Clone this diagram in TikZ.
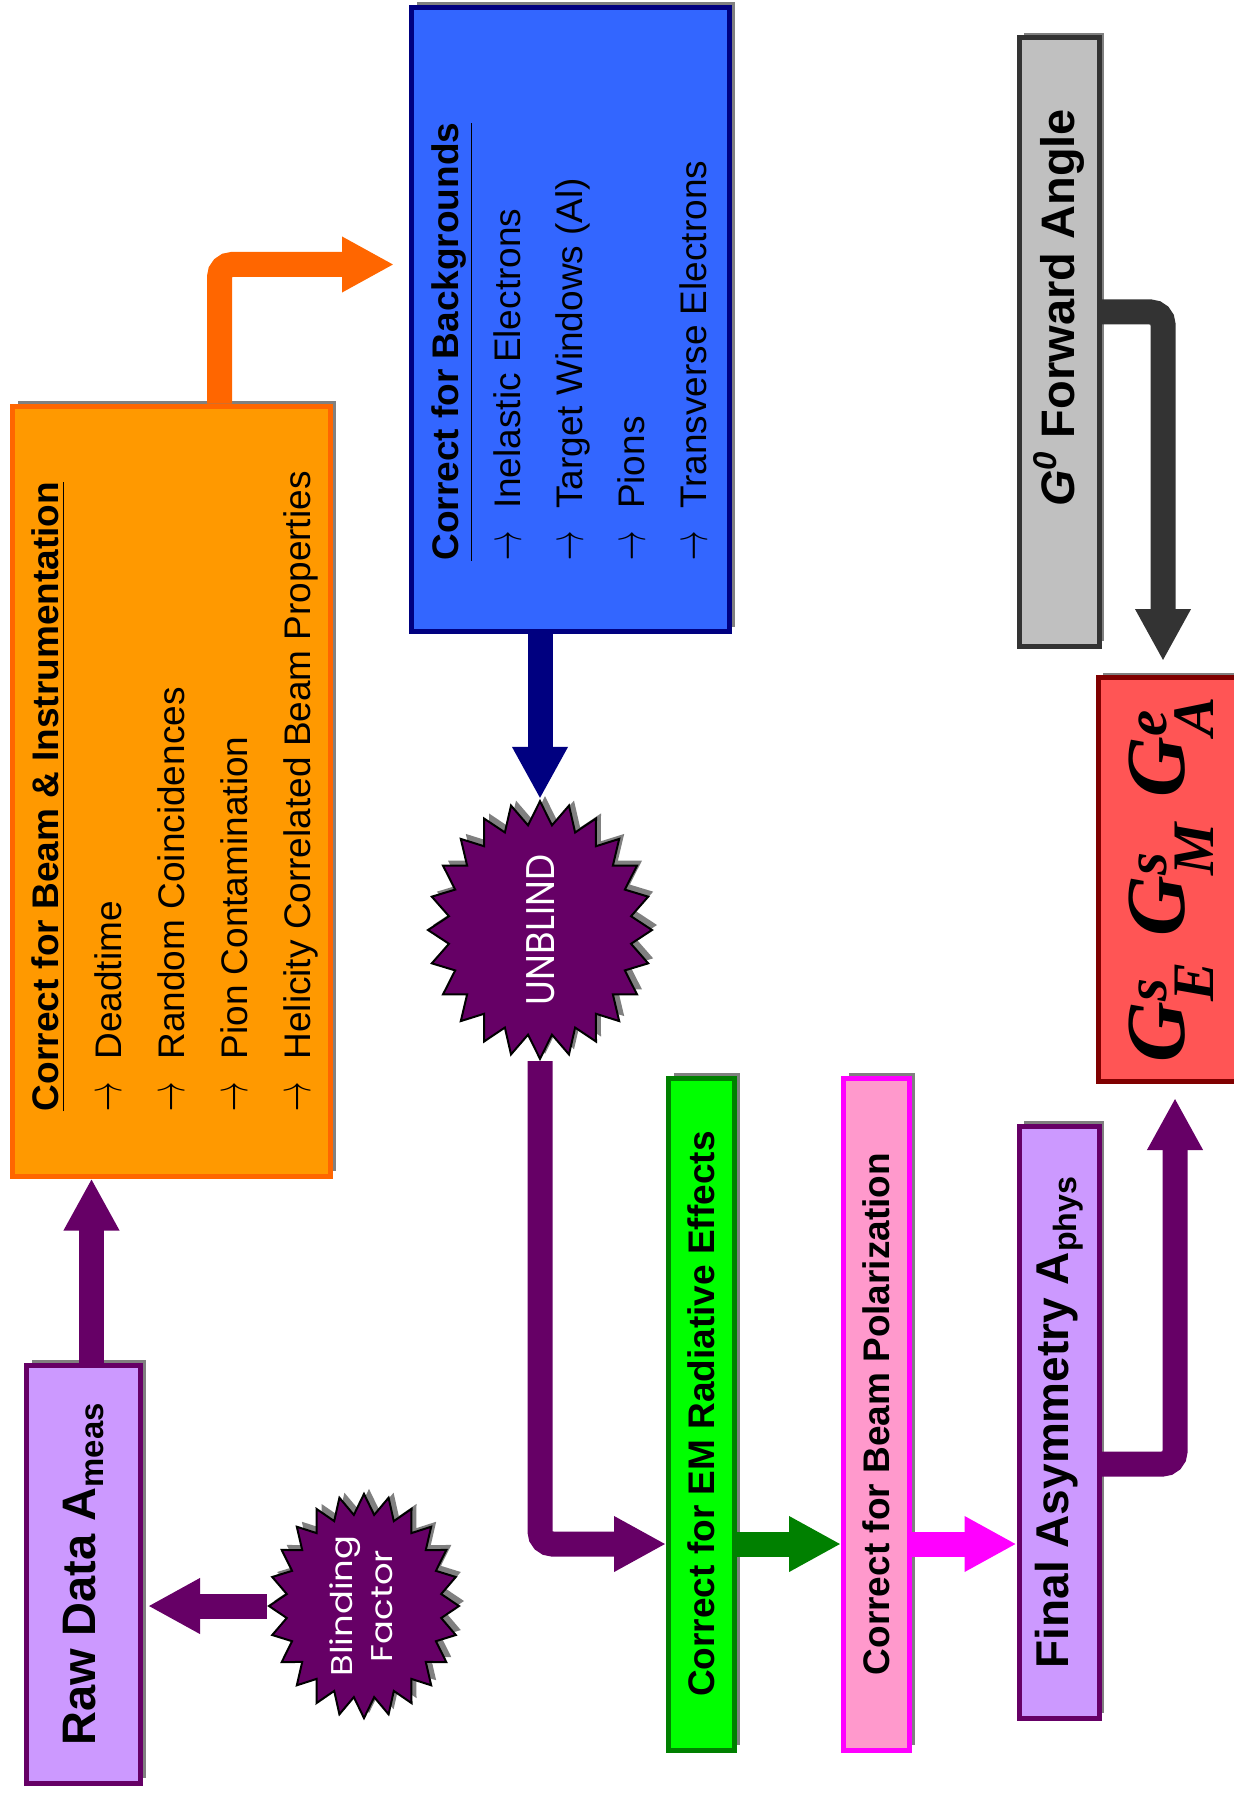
\documentclass[tikz,border=0pt]{standalone}
\usepackage{amsmath}
\usepackage{fontspec}
\setmainfont{Liberation Sans}
\newfontfamily\starfont{Poppins}
\newfontfamily\formfont{Liberation Serif}
\usetikzlibrary{arrows.meta, shapes.geometric, shadows}
\definecolor{beamorange}{RGB}{255, 153, 0}
\definecolor{beamedge}{RGB}{255, 102, 0}
\definecolor{bkgblue}{RGB}{51, 102, 255}
\definecolor{bkgedge}{RGB}{0, 0, 128}
\definecolor{blindpurple}{RGB}{102, 0, 102}
\definecolor{asymlilac}{RGB}{204, 153, 255}
\definecolor{radgreen}{RGB}{0, 255, 0}
\definecolor{radedge}{RGB}{0, 128, 0}
\definecolor{polpink}{RGB}{255, 153, 204}
\definecolor{poledge}{RGB}{255, 0, 255}
\definecolor{fwdgray}{RGB}{192, 192, 192}
\definecolor{fwdedge}{RGB}{51, 51, 51}
\definecolor{ffred}{RGB}{255, 85, 85}
\definecolor{ffedge}{RGB}{128, 0, 0}
\definecolor{shadowgray}{RGB}{128, 128, 128}
\newcommand{\itemarrow}{\scalebox{0.85}[1.5]{$\rightarrow$}\hspace{0.6em}}
% star labels take no room, so the star size is set by minimum size only
\newcommand{\burstlabel}[1]{\makebox[0pt]{\raisebox{-0.35em}[0pt][0pt]{#1}}}

\tikzset{
  stepbox/.style={rectangle, line width=2.5pt, inner sep=0pt,
    drop shadow={shadow xshift=2.5pt, shadow yshift=2.5pt, fill=shadowgray, opacity=1}},
  burst/.style={star, star points=24, star point ratio=1.22, inner sep=0pt,
    fill=blindpurple, draw=black, line width=1pt, text=white,
    drop shadow={shadow xshift=2.5pt, shadow yshift=2.5pt, fill=shadowgray, opacity=1}},
  flow/.style={line width=12.5pt, rounded corners=6.25pt, -{Triangle[length=26pt, width=26pt]}}
}

\begin{document}
\begin{tikzpicture}[x=0.5pt, y=-0.5pt]
  \useasboundingbox (0,0) rectangle (1233,1797);

  % Beam & instrumentation corrections
  \node[stepbox, draw=beamedge, fill=beamorange, minimum width=159pt, minimum height=385pt] (beam) at (171.5,791)
    {\rotatebox{90}{\fontsize{18.5pt}{31.5pt}\selectfont\makebox[320pt][l]{\begin{tabular}{@{}l@{}}
      \underline{\textbf{Correct for Beam \& Instrumentation}}\\
      \itemarrow Deadtime\\
      \itemarrow Random Coincidences\\
      \itemarrow Pion Contamination\\
      \itemarrow Helicity Correlated Beam Properties
    \end{tabular}}}};

  % Background corrections
  \node[stepbox, draw=bkgedge, fill=bkgblue, minimum width=159pt, minimum height=312pt] (bkg) at (570.5,319.5)
    {\rotatebox{90}{\fontsize{18.5pt}{31pt}\selectfont\makebox[241pt][l]{\begin{tabular}{@{}l@{}}
      \underline{\textbf{Correct for Backgrounds}}\\
      \itemarrow Inelastic Electrons\\
      \itemarrow Target Windows (Al)\\
      \itemarrow Pions\\
      \itemarrow Transverse Electrons
    \end{tabular}}}};

  % Raw data
  \node[stepbox, draw=blindpurple, fill=asymlilac, minimum width=57pt, minimum height=209pt] (raw) at (83.5,1574)
    {\rotatebox{90}{\fontsize{23.5pt}{28pt}\selectfont\bfseries Raw Data A\textsubscript{meas}}};

  % Radiative and polarization corrections
  \node[stepbox, draw=radedge, fill=radgreen, minimum width=33pt, minimum height=336pt] (radcorr) at (701.5,1414)
    {\rotatebox{90}{\fontsize{18.5pt}{22pt}\selectfont\bfseries Correct for EM Radiative Effects}};
  \node[stepbox, draw=poledge, fill=polpink, minimum width=33pt, minimum height=336pt] (polcorr) at (876.5,1414)
    {\rotatebox{90}{\fontsize{18.5pt}{22pt}\selectfont\bfseries Correct for Beam Polarization}};

  % Final asymmetry
  \node[stepbox, draw=blindpurple, fill=asymlilac, minimum width=40pt, minimum height=296pt] (asym) at (1059,1422)
    {\rotatebox{90}{\fontsize{23pt}{28pt}\selectfont\bfseries Final Asymmetry A\textsubscript{phys}}};

  % G0 forward angle
  \node[stepbox, draw=fwdedge, fill=fwdgray, minimum width=40pt, minimum height=304pt] (fwd) at (1059,342)
    {\rotatebox{90}{\makebox[233pt][r]{\fontsize{23.5pt}{28pt}\selectfont\bfseries\textit{G\textsuperscript{0}} Forward Angle}}};

  % Form factors
  \node[stepbox, draw=ffedge, fill=ffred, minimum width=73pt, minimum height=202pt] (formfac) at (1171,879.5)
    {\rotatebox{90}{\formfont\bfseries\itshape\fontsize{42pt}{46pt}\selectfont
      G$^{\text{s}}_{\text{E}}$\hspace{0.3em}G$^{\text{s}}_{\text{M}}$\hspace{0.3em}G$^{\text{e}}_{\text{A}}$}};

  % Blinding stars
  \node[burst, minimum size=112pt, yscale=1.15] (unblind) at (540,930)
    {\rotatebox{90}{\starfont\fontsize{20pt}{22pt}\selectfont\burstlabel{\scalebox{0.8}[1]{UNBLIND}}}};
  \node[burst, minimum size=95pt, yscale=1.18] (blind) at (364,1606)
    {\rotatebox{90}{\starfont\fontsize{15pt}{20pt}\selectfont\burstlabel{\raisebox{0.1em}{\begin{tabular}{@{}c@{}}Blinding\\Factor\end{tabular}}}}};

  % Flow arrows
  \draw[flow, blindpurple, shorten >=2.5pt] (blind.west) -- (blind.west -| raw.east);
  \draw[flow, blindpurple] ([xshift=4pt]raw.north) -- ([xshift=4pt]raw.north |- beam.south);
  \draw[flow, beamedge, shorten >=7.5pt] ([xshift=24pt]beam.north) |- ([yshift=27.5pt]bkg.west);
  \draw[flow, bkgedge] (bkg.south -| unblind.north) -- (unblind.north);
  \draw[flow, blindpurple] (unblind.south) |- ([yshift=-65pt]radcorr.west);
  \draw[flow, radedge] ([yshift=-65pt]radcorr.east) -- ([yshift=-65pt]polcorr.west);
  \coordinate (polout) at ([yshift=-65pt]polcorr.east);
  \draw[flow, poledge] (polout) -- (polout -| asym.west);
  \draw[flow, blindpurple, shorten >=7pt] ([yshift=-21pt]asym.east) -| ([xshift=2pt]formfac.south);
  \draw[flow, fwdedge, shorten >=7pt] ([yshift=15pt]fwd.east) -| ([xshift=-4pt]formfac.north);

\end{tikzpicture}
\end{document}
